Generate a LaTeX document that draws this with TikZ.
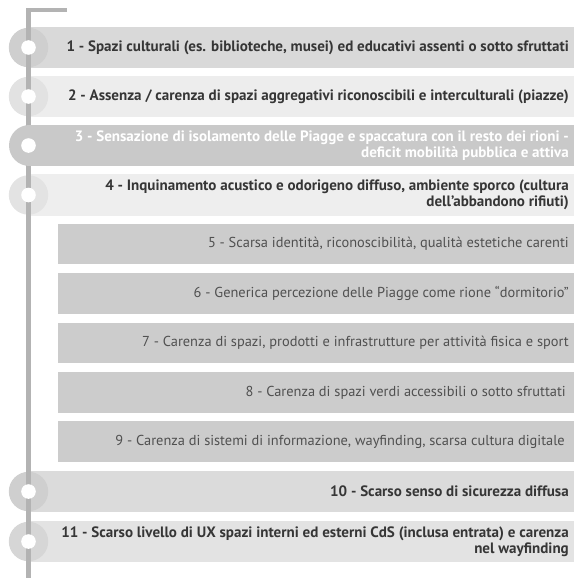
\documentclass[tikz,border=0pt]{standalone}
\usepackage{fontspec}
\setmainfont{PT Sans}
\definecolor{linegray}{HTML}{B3B3B3}
\definecolor{barA}{HTML}{D9D9D9}
\definecolor{haloA}{HTML}{CFCFCF}
\definecolor{barB}{HTML}{EDEDED}
\definecolor{haloB}{HTML}{E2E2E2}
\definecolor{barC}{HTML}{C9C9C9}
\definecolor{barD}{HTML}{EEEEEE}
\definecolor{haloD}{HTML}{E3E3E3}
\definecolor{subbar}{HTML}{CCCCCC}
\definecolor{barJ}{HTML}{DBDBDB}
\definecolor{haloJ}{HTML}{CFCFCF}
\definecolor{barK}{HTML}{E3E3E3}
\definecolor{haloK}{HTML}{D6D6D6}
\definecolor{txtdark}{HTML}{363636}
\definecolor{txtsub}{HTML}{505050}
\tikzset{
  lbl/.style={anchor=east, align=right, inner sep=0pt, text=txtdark,
    font=\fontsize{15.05}{16}\selectfont\bfseries},
  sublbl/.style={anchor=east, align=right, inner sep=0pt, text=txtsub,
    font=\fontsize{14.4}{16}\selectfont},
  dot/.style={fill=white},
}
\begin{document}
\begin{tikzpicture}[x=1pt,y=-1pt]
\useasboundingbox (0,0) rectangle (576,578);
% main bars
\fill[barA] (29,27) rectangle (574,68);
\fill[haloA] (28.5,47.5) circle (19.7pt);
\fill[barB] (29,76) rectangle (574,117);
\fill[haloB] (28.5,96.5) circle (19.7pt);
\fill[barD] (29,174) rectangle (574,216);
\fill[haloD] (28.5,195) circle (19.7pt);
\fill[barJ] (29,471) rectangle (574,512);
\fill[haloJ] (28.5,491.5) circle (19.7pt);
\fill[barK] (29,521) rectangle (574,562);
\fill[haloK] (28.5,541.5) circle (19.7pt);
% sub bars
\foreach \ya/\yb in {224/264,273/314,323/363,372/413,421/462}
  \fill[subbar] (58,\ya) rectangle (574,\yb);
% timeline
\coordinate (ltop) at (67,10);
\coordinate (lcorner) at (28.5,10);
\coordinate (lbottom) at (28.5,578);
\draw[linegray, line width=4.5pt, line join=miter] (ltop) -- (lcorner) -- (lbottom);
% row 3 pill
\fill[barC] (29.5,145.5) circle (20.5pt);
\fill[barC] (29.5,125) rectangle (574,166);
% dots
\foreach \yc in {47.5,96.5,145.5,195,491.5,541.5}
  \fill[dot] (28.5,\yc) circle (7.3pt);
% labels
\node[lbl] (t1) at (569,47.5) {1 - Spazi culturali (es. biblioteche, musei) ed educativi assenti o sotto sfruttati};
\node[lbl] (t2) at (569,96.5) {2 - Assenza / carenza di spazi aggregativi riconoscibili e interculturali (piazze)};
\node[lbl, text=white] (t3) at (569,145.5) {3 - Sensazione di isolamento delle Piagge e spaccatura con il resto dei rioni -\\deficit mobilità pubblica e attiva};
\node[lbl] (t4) at (569,195) {4 - Inquinamento acustico e odorigeno diffuso, ambiente sporco (cultura\\dell’abbandono rifiuti)};
\node[sublbl] (t5) at (569,244) {5 - Scarsa identità, riconoscibilità, qualità estetiche carenti};
\node[sublbl] (t6) at (569,293.5) {6 - Generica percezione delle Piagge come rione “dormitorio”};
\node[sublbl] (t7) at (569,343) {7 - Carenza di spazi, prodotti e infrastrutture per attività fisica e sport};
\node[sublbl] (t8) at (566,392.5) {8 - Carenza di spazi verdi accessibili o sotto sfruttati};
\node[sublbl] (t9) at (565,441.5) {9 - Carenza di sistemi di informazione, wayfinding, scarsa cultura digitale};
\node[lbl] (t10) at (569,491.5) {10 - Scarso senso di sicurezza diffusa};
\node[lbl] (t11) at (569,541.5) {11 - Scarso livello di UX spazi interni ed esterni CdS (inclusa entrata) e carenza\\nel wayfinding};
\end{tikzpicture}
\end{document}
